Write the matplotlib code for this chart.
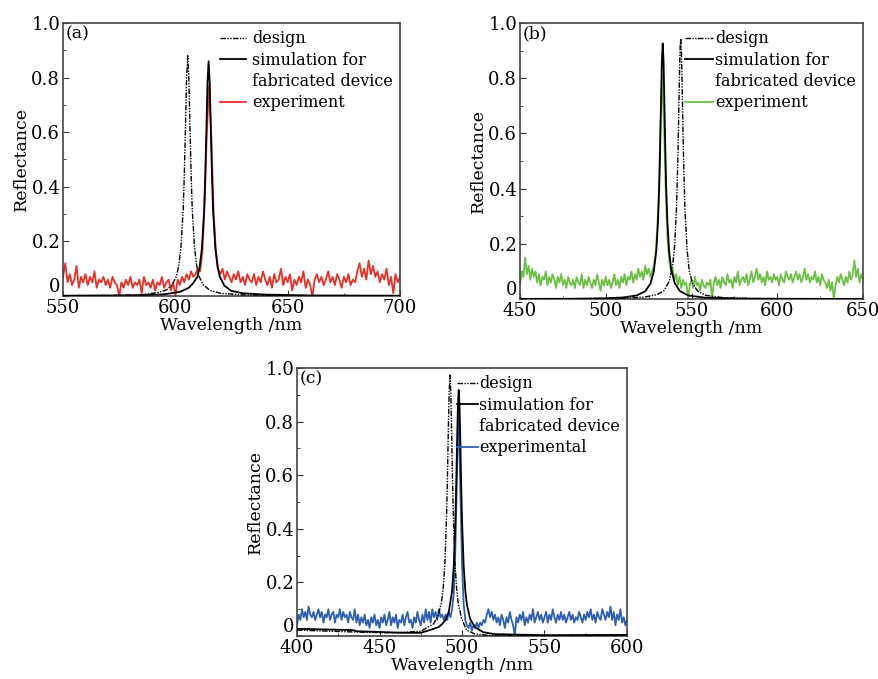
import numpy as np
import matplotlib
matplotlib.use("Agg")
import matplotlib.pyplot as plt
from matplotlib.lines import Line2D

plt.rcParams["font.family"] = ["DejaVu Serif"]

# ---------------- panel (a) ----------------
exp_a_start, exp_a_stop = 550, 700
exp_a = [0.07, 0.12, 0.05, 0.08, 0.04, 0.06, 0.11, 0.03, 0.07, 0.05,
         0.08, 0.04, 0.07, 0.05, 0.09, 0.03, 0.06, 0.05, 0.07, 0.04,
         0.06, 0.03, 0.07, 0.05, 0.04, 0.00, 0.05, 0.03, 0.06, 0.04,
         0.07, 0.03, 0.05, 0.04, 0.06, 0.01, 0.07, 0.04, 0.05, 0.03,
         0.06, 0.02, 0.05, 0.04, 0.07, 0.03, 0.05, 0.06, 0.02, 0.05,
         0.00, 0.06, 0.04, 0.07, 0.05, 0.08, 0.06, 0.09, 0.07, 0.08,
         0.10, 0.09, 0.16, 0.33, 0.60, 0.77, 0.58, 0.31, 0.17, 0.10,
         0.08, 0.10, 0.06, 0.09, 0.07, 0.05, 0.08, 0.06, 0.09, 0.05,
         0.07, 0.04, 0.08, 0.06, 0.05, 0.08, 0.04, 0.07, 0.05, 0.09,
         0.06, 0.04, 0.07, 0.03, 0.08, 0.05, 0.06, 0.10, 0.04, 0.07,
         0.05, 0.08, 0.02, 0.06, 0.04, 0.07, 0.05, 0.09, 0.03, 0.06,
         0.04, 0.00, 0.06, 0.08, 0.05, 0.07, 0.04, 0.06, 0.09, 0.05,
         0.07, 0.04, 0.08, 0.06, 0.03, 0.07, 0.05, 0.08, 0.04, 0.06,
         0.05, 0.09, 0.12, 0.07, 0.10, 0.06, 0.13, 0.08, 0.11, 0.07,
         0.09, 0.05, 0.08, 0.06, 0.10, 0.04, 0.07, 0.01, 0.08, 0.05,
         0.07]
design_a_x = [550, 570, 585, 592, 596, 598.5, 600.5, 601.5, 602.5, 603.5, 604, 604.5,
              605, 605.5, 606, 606.5, 607, 607.5, 608.5, 609.5, 610.5, 612.5, 615.5,
              620, 630, 650, 700]
design_a_y = [0.001, 0.002, 0.005, 0.012, 0.022, 0.040, 0.072, 0.110, 0.180, 0.320, 0.450,
              0.620, 0.800, 0.880, 0.800, 0.620, 0.450, 0.320, 0.180, 0.110, 0.072, 0.040,
              0.020, 0.010, 0.004, 0.001, 0.000]
sim_a_x = [550, 580, 595, 602, 606, 608, 609.8, 610.8, 611.8, 612.8, 613.3, 613.8, 614.3,
           614.8, 615.3, 615.8, 616.3, 616.8, 617.8, 618.8, 619.8, 621.8, 624.8, 630, 640,
           660, 700]
sim_a_y = [0.001, 0.002, 0.006, 0.015, 0.030, 0.048, 0.070, 0.106, 0.174, 0.312, 0.440,
           0.605, 0.782, 0.860, 0.782, 0.605, 0.440, 0.312, 0.174, 0.106, 0.070, 0.038,
           0.019, 0.010, 0.005, 0.002, 0.001]

# ---------------- panel (b) ----------------
exp_b_start, exp_b_stop = 450, 650
exp_b = [0.05, 0.10, 0.08, 0.15, 0.09, 0.12, 0.07, 0.11, 0.08, 0.10,
         0.06, 0.09, 0.05, 0.08, 0.07, 0.10, 0.05, 0.08, 0.06, 0.09,
         0.07, 0.04, 0.08, 0.06, 0.09, 0.05, 0.07, 0.04, 0.08, 0.06,
         0.05, 0.07, 0.04, 0.08, 0.06, 0.05, 0.09, 0.04, 0.07, 0.05,
         0.08, 0.06, 0.04, 0.07, 0.05, 0.09, 0.06, 0.03, 0.07, 0.05,
         0.08, 0.05, 0.07, 0.04, 0.06, 0.09, 0.05, 0.07, 0.04, 0.08,
         0.06, 0.09, 0.05, 0.08, 0.07, 0.10, 0.06, 0.09, 0.07, 0.11,
         0.08, 0.10, 0.07, 0.12, 0.09, 0.11, 0.08, 0.10, 0.12, 0.16,
         0.25, 0.40, 0.65, 0.81, 0.62, 0.38, 0.22, 0.14, 0.10, 0.11,
         0.07, 0.09, 0.05, 0.08, 0.04, 0.07, 0.05, 0.06, 0.00, 0.05,
         0.07, 0.04, 0.08, 0.05, 0.06, 0.03, 0.07, 0.05, 0.04, 0.06,
         0.05, 0.07, 0.00, 0.06, 0.08, 0.05, 0.07, 0.04, 0.08, 0.06,
         0.05, 0.09, 0.06, 0.07, 0.04, 0.08, 0.06, 0.10, 0.05, 0.07,
         0.08, 0.06, 0.09, 0.05, 0.07, 0.10, 0.06, 0.08, 0.11, 0.07,
         0.09, 0.06, 0.08, 0.05, 0.10, 0.07, 0.08, 0.06, 0.09, 0.07,
         0.08, 0.05, 0.09, 0.07, 0.06, 0.10, 0.08, 0.07, 0.09, 0.06,
         0.08, 0.10, 0.07, 0.09, 0.06, 0.08, 0.11, 0.07, 0.09, 0.06,
         0.08, 0.07, 0.10, 0.06, 0.08, 0.05, 0.09, 0.07, 0.06, 0.04,
         0.07, 0.03, 0.06, 0.00, 0.05, 0.08, 0.06, 0.09, 0.07, 0.05,
         0.08, 0.06, 0.10, 0.07, 0.09, 0.14, 0.08, 0.11, 0.06, 0.09,
         0.07]
design_b_x = [450, 490, 510, 522, 530, 534, 537, 539, 540.2, 541.2, 542, 542.5, 543, 543.4,
              543.7, 544, 544.4, 544.9, 545.4, 546.2, 547.4, 548.7, 550.7, 553.7, 558.5,
              568.5, 590, 650]
design_b_y = [0.0003, 0.001, 0.0027, 0.0065, 0.016, 0.031, 0.064, 0.121, 0.198, 0.322,
              0.499, 0.654, 0.820, 0.918, 0.944, 0.918, 0.820, 0.654, 0.499, 0.322, 0.180,
              0.100, 0.055, 0.028, 0.013, 0.005, 0.0014, 0.0003]
sim_b_x = [450, 480, 500, 510, 518, 523, 526, 528, 529.5, 530.5, 531.2, 531.7, 532.2, 532.7,
           533.2, 533.7, 534.2, 534.7, 535.2, 535.9, 536.9, 538.2, 540.2, 543.2, 548, 558,
           580, 650]
sim_b_y = [0.0004, 0.001, 0.0027, 0.0056, 0.013, 0.028, 0.055, 0.099, 0.177, 0.285, 0.414,
           0.547, 0.707, 0.860, 0.926, 0.860, 0.707, 0.547, 0.414, 0.285, 0.177, 0.106,
           0.058, 0.029, 0.013, 0.0048, 0.0014, 0.0002]

# ---------------- panel (c) ----------------
exp_c_start, exp_c_stop = 400, 600
exp_c = [0.04, 0.08, 0.06, 0.10, 0.07, 0.09, 0.06, 0.11, 0.08, 0.07,
         0.09, 0.06, 0.08, 0.10, 0.07, 0.09, 0.05, 0.08, 0.07, 0.10,
         0.06, 0.08, 0.09, 0.05, 0.08, 0.07, 0.10, 0.06, 0.09, 0.07,
         0.08, 0.05, 0.09, 0.07, 0.06, 0.10, 0.05, 0.08, 0.04, 0.07,
         0.05, 0.08, 0.04, 0.06, 0.03, 0.07, 0.05, 0.08, 0.04, 0.06,
         0.03, 0.07, 0.05, 0.08, 0.04, 0.06, 0.09, 0.04, 0.07, 0.05,
         0.08, 0.03, 0.06, 0.05, 0.08, 0.04, 0.07, 0.09, 0.05, 0.06,
         0.03, 0.07, 0.05, 0.09, 0.06, 0.04, 0.08, 0.05, 0.10, 0.06,
         0.09, 0.05, 0.10, 0.07, 0.09, 0.06, 0.10, 0.07, 0.08, 0.06,
         0.08, 0.06, 0.09, 0.07, 0.10, 0.16, 0.33, 0.62, 0.86, 0.55,
         0.27, 0.12, 0.06, 0.04, 0.03, 0.05, 0.02, 0.04, 0.03, 0.05,
         0.03, 0.05, 0.04, 0.06, 0.05, 0.08, 0.10, 0.07, 0.09, 0.06,
         0.08, 0.05, 0.07, 0.04, 0.08, 0.06, 0.03, 0.07, 0.05, 0.09,
         0.06, 0.04, 0.00, 0.07, 0.05, 0.08, 0.06, 0.09, 0.04, 0.07,
         0.05, 0.08, 0.06, 0.10, 0.05, 0.07, 0.09, 0.06, 0.08, 0.05,
         0.07, 0.09, 0.05, 0.08, 0.06, 0.10, 0.07, 0.05, 0.08, 0.06,
         0.09, 0.06, 0.08, 0.05, 0.07, 0.09, 0.06, 0.08, 0.05, 0.07,
         0.06, 0.09, 0.07, 0.05, 0.08, 0.06, 0.09, 0.07, 0.10, 0.06,
         0.08, 0.05, 0.09, 0.07, 0.06, 0.10, 0.08, 0.06, 0.09, 0.07,
         0.11, 0.06, 0.09, 0.04, 0.08, 0.06, 0.10, 0.05, 0.07, 0.04,
         0.06]
design_c_x = [400, 420, 440, 460, 475, 482.7, 485.7, 487.7, 488.7, 489.7, 490.7, 491.2,
              491.7, 492.2, 492.7, 493.2, 493.7, 494.2, 494.7, 495.7, 496.7, 497.7, 499.7,
              502.7, 507.7, 515, 540, 570, 600]
design_c_y = [0.022, 0.018, 0.014, 0.012, 0.018, 0.045, 0.077, 0.133, 0.185, 0.279, 0.462,
              0.600, 0.763, 0.911, 0.974, 0.911, 0.763, 0.600, 0.462, 0.279, 0.179, 0.123,
              0.067, 0.022, 0.008, 0.003, 0.002, 0.003, 0.005]
sim_c_x = [400, 420, 434, 436, 450, 465, 475, 482, 486, 488, 490, 492, 494, 495, 496, 496.5,
           497, 497.5, 498, 498.5, 499, 499.5, 500, 501, 502, 503, 505, 508, 513, 520, 550,
           600]
sim_c_y = [0.027, 0.024, 0.022, 0.018, 0.015, 0.012, 0.012, 0.025, 0.034, 0.045, 0.060,
           0.090, 0.169, 0.263, 0.435, 0.566, 0.719, 0.858, 0.918, 0.858, 0.719, 0.566,
           0.435, 0.263, 0.169, 0.116, 0.063, 0.032, 0.014, 0.007, 0.003, 0.004]

panels = [
    dict(pos=[0.0717, 0.5641, 0.3834, 0.4020], tag="(a)", xlim=(550, 700),
         xticks=[550, 600, 650, 700],
         exp=(exp_a_start, exp_a_stop, exp_a), exp_color="#e8302a", exp_label="experiment",
         design=(design_a_x, design_a_y), sim=(sim_a_x, sim_a_y), hpad=0.4, hlen=1.6),
    dict(pos=[0.5916, 0.5596, 0.3902, 0.4065], tag="(b)", xlim=(450, 650),
         xticks=[450, 500, 550, 600, 650],
         exp=(exp_b_start, exp_b_stop, exp_b), exp_color="#6cbf45", exp_label="experiment",
         design=(design_b_x, design_b_y), sim=(sim_b_x, sim_b_y), hpad=0.1, hlen=1.8),
    dict(pos=[0.3379, 0.0633, 0.3754, 0.3947], tag="(c)", xlim=(400, 600),
         xticks=[400, 450, 500, 550, 600],
         exp=(exp_c_start, exp_c_stop, exp_c), exp_color="#2f5fb3", exp_label="experimental",
         design=(design_c_x, design_c_y), sim=(sim_c_x, sim_c_y), hpad=0.05, hlen=1.3),
]

DASH = (0, (4, 1, 1, 1, 1, 1))

fig = plt.figure(figsize=(8.79, 6.79), dpi=100)
for p in panels:
    ax = fig.add_axes(p["pos"])
    s, e, vals = p["exp"]
    wl = np.arange(s, e + 1)
    ax.plot(wl, vals, color=p["exp_color"], lw=1.3, zorder=2)
    ax.plot(*p["design"], color="black", lw=1.0, ls=DASH, zorder=3)
    ax.plot(*p["sim"], color="black", lw=1.3, zorder=4)

    ax.set_xlim(*p["xlim"])
    ax.set_ylim(0, 1.0)
    ax.set_xticks(p["xticks"])
    ax.set_xticks(np.arange(p["xlim"][0], p["xlim"][1] + 1, 25), minor=True)
    ax.set_yticks([0, 0.2, 0.4, 0.6, 0.8, 1.0])
    ax.set_yticklabels(["0", "0.2", "0.4", "0.6", "0.8", "1.0"])
    ax.set_yticks(np.arange(0, 1.01, 0.1), minor=True)
    ax.tick_params(which="both", direction="in", labelsize=13, pad=2, color="#333333")
    ax.tick_params(which="major", length=4)
    ax.tick_params(which="minor", length=2.5)
    # the "0" on the y axis sits just above the corner, as in the original
    ax.get_yticklabels()[0].set_va("bottom")
    for sp in ax.spines.values():
        sp.set_color("#444444")
        sp.set_linewidth(1.2)
    ax.set_xlabel("Wavelength /nm", fontsize=12.5, labelpad=0)
    ax.set_ylabel("Reflectance", fontsize=12.5, labelpad=1)
    ax.text(0.008, 0.99, p["tag"], transform=ax.transAxes, ha="left", va="top",
            fontsize=12.5)

    handles = [Line2D([], [], color="black", lw=1.0, ls=DASH),
               Line2D([], [], color="black", lw=1.3),
               Line2D([], [], color="none"),
               Line2D([], [], color=p["exp_color"], lw=1.3)]
    labels = ["design", "simulation for", "fabricated device", p["exp_label"]]
    ax.legend(handles, labels, loc="upper right", frameon=False, fontsize=11.5,
              handlelength=p["hlen"], handletextpad=p["hpad"], labelspacing=0.27,
              borderaxespad=0.2, borderpad=0.25)

fig.savefig("out.png", dpi=100)
